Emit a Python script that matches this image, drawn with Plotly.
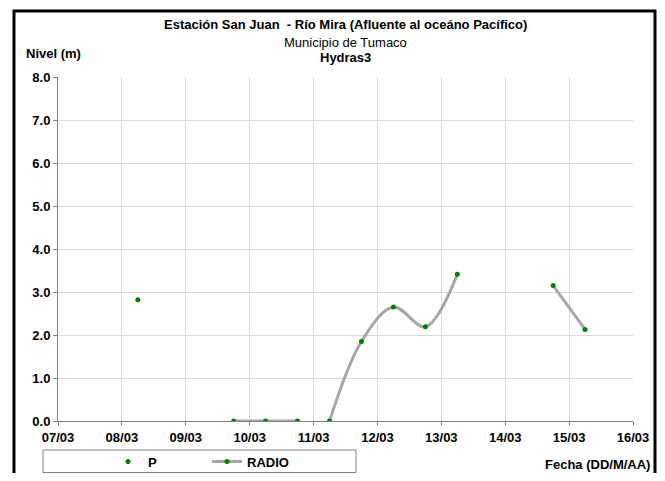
import plotly.graph_objects as go

# data
p_time = ["2023-03-08 06:00"]
p_level = [2.82]

radio_time = ["2023-03-09 18:00", "2023-03-10 06:00", "2023-03-10 18:00", "2023-03-11 00:00",
              "2023-03-11 06:00", "2023-03-11 18:00", "2023-03-12 06:00", "2023-03-12 18:00",
              "2023-03-13 06:00", "2023-03-14 00:00", "2023-03-14 18:00", "2023-03-15 06:00"]
radio_level = [0.0, 0.0, 0.0, None, 0.0, 1.85, 2.65, 2.19, 3.41, None, 3.15, 2.13]

title_lines = ["<b>Estación San Juan  - Río Mira (Afluente al oceáno Pacífico)</b>",
               "Municipio de Tumaco",
               "<b>Hydras3</b>"]

# page body has an 8px margin all round; keep the figure inside the window
OFF = 8
W, H = 665 - 2 * OFF, 481 - 2 * OFF
L, T = 58 - OFF, 77 - OFF
R = W - (633 - OFF)
B = H - (421 - OFF)
pw, ph = W - L - R, H - T - B


def px_x(x):
    # x in screenshot pixels -> paper coords
    return (x - OFF - L) / pw


def px_y(y):
    return (H - B - (y - OFF)) / ph


fig = go.Figure()

fig.add_trace(go.Scatter(
    x=p_time, y=p_level, name="P", mode="markers",
    marker=dict(color="#008000", size=5),
))

fig.add_trace(go.Scatter(
    x=radio_time, y=radio_level, name="RADIO", mode="lines+markers",
    line=dict(color="#A6A6A6", width=3, shape="spline"),
    marker=dict(color="#008000", size=5),
    connectgaps=False,
))

FAM = "Liberation Sans, Arial"
font = dict(family=FAM, size=13, color="black")

# title lines
for txt, y in zip(title_lines, [25, 42, 58]):
    fig.add_annotation(text=txt, x=0.5, y=px_y(y), xref="paper", yref="paper",
                       showarrow=False, xanchor="center", yanchor="middle", font=font)

fig.add_annotation(text="<b>Nivel (m)</b>", x=px_x(24), y=px_y(53), xref="paper", yref="paper",
                   showarrow=False, xanchor="left", yanchor="middle", font=font)
fig.add_annotation(text="<b>Fecha (DD/M/AA)</b>", x=px_x(651), y=px_y(472.5), xref="paper", yref="paper",
                   showarrow=False, xanchor="right", yanchor="bottom", borderpad=0, font=font)

# outer frame and legend box
fig.add_shape(type="rect", xref="paper", yref="paper",
              x0=px_x(14), x1=px_x(655), y0=px_y(490), y1=px_y(11),
              line=dict(color="black", width=3))
fig.add_shape(type="rect", xref="paper", yref="paper",
              x0=px_x(43), x1=px_x(356), y0=px_y(472.5), y1=px_y(450),
              line=dict(color="#808080", width=1))

fig.update_layout(
    width=W, height=H,
    margin=dict(l=L, r=R, t=T, b=B, autoexpand=False),
    plot_bgcolor="white", paper_bgcolor="white",
    font=font,
    showlegend=True,
    legend=dict(orientation="h", x=px_x(108), y=px_y(461.5), xanchor="left", yanchor="middle",
                bgcolor="rgba(0,0,0,0)", entrywidth=54, itemwidth=30,
                font=dict(family=FAM, size=13, color="black", weight="bold")),
)

tickfont = dict(family=FAM, size=13, color="black", weight="bold")

fig.update_xaxes(
    type="date", range=["2023-03-07", "2023-03-16"],
    dtick=86400000, tick0="2023-03-07", tickformat="%d/%m",
    showgrid=True, gridcolor="#D9D9D9", gridwidth=1,
    showline=True, linecolor="#808080", linewidth=1,
    ticks="outside", ticklen=4, tickcolor="#808080",
    tickfont=tickfont, zeroline=False,
)
fig.update_yaxes(
    range=[0, 8], dtick=1, tickformat=".1f",
    showgrid=True, gridcolor="#D9D9D9", gridwidth=1,
    showline=True, linecolor="#808080", linewidth=1,
    ticks="outside", ticklen=4, tickcolor="#808080",
    tickfont=tickfont, zeroline=False,
)

fig.write_html("out.html")
